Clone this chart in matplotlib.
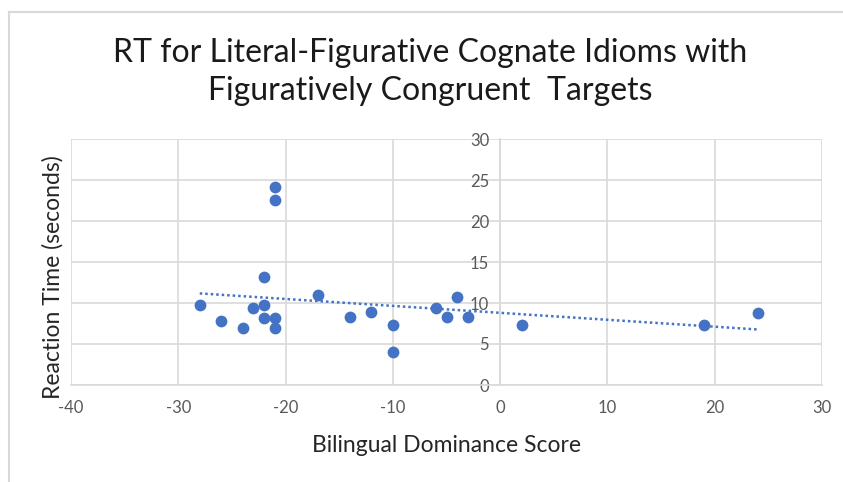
import matplotlib.pyplot as plt
import numpy as np

# данные (оценка по картинке)
dominance = [-28, -26, -24, -23, -22, -22, -22, -21, -21, -21, -21,
             -17, -14, -12, -10, -10, -6, -5, -4, -3, 2, 19, 24]
rt = [9.8, 7.8, 7.0, 9.4, 9.8, 8.2, 13.2, 24.1, 22.6, 8.2, 7.0,
      11.0, 8.3, 8.9, 7.3, 4.0, 9.4, 8.3, 10.7, 8.3, 7.3, 7.3, 8.8]
x_ticks = [-40, -30, -20, -10, 0, 10, 20, 30]
y_ticks = [0, 5, 10, 15, 20, 25, 30]

plt.rcParams['font.family'] = ['Lato', 'DejaVu Sans']
plt.rcParams['axes.unicode_minus'] = False
blue = '#4472C4'
grey = '#D9D9D9'

fig = plt.figure(figsize=(8.43, 4.82), dpi=100)
ax = fig.add_axes([71 / 843, 1 - 385 / 482, 751 / 843, 246 / 482])

ax.scatter(dominance, rt, s=72, color=blue, zorder=3, linewidths=0)

# линейный тренд
k, b = np.polyfit(dominance, rt, 1)
tx = np.array([min(dominance), max(dominance)])
ax.plot(tx, k * tx + b, color=blue, lw=1.8, linestyle=(0, (1, 1.2)), zorder=2)

ax.set_xlim(-40, 30)
ax.set_ylim(0, 30)
ax.set_xticks(x_ticks)
ax.set_yticks(y_ticks)
ax.grid(True, color=grey, lw=1.2)
ax.set_axisbelow(True)

for s in ['top', 'right']:
    ax.spines[s].set_visible(False)
ax.spines['left'].set_position(('data', 0))
ax.spines['left'].set_color(grey)
ax.spines['left'].set_linewidth(1.2)
ax.spines['bottom'].set_color(grey)
ax.spines['bottom'].set_linewidth(1.2)
ax.tick_params(length=0, labelsize=12, colors='#595959')
ax.tick_params(axis='x', pad=11)
ax.tick_params(axis='y', pad=8)

fig.text(0.51, 1 - 72 / 482, "RT for Literal-Figurative Cognate Idioms with\nFiguratively Congruent  Targets",
         ha='center', va='center', fontsize=23, color='#1a1a1a', linespacing=1.35)
fig.text(447 / 843, 1 - 445 / 482, "Bilingual Dominance Score", ha='center', va='center',
         fontsize=16.5, color='#262626')
fig.text(53 / 843, 1 - 277 / 482, "Reaction Time (seconds)", ha='center', va='center',
         rotation=90, fontsize=16.5, color='#262626')

# рамка
fig.add_artist(plt.Line2D([8.5 / 843, 1], [1 - 12 / 482, 1 - 12 / 482], color=grey, lw=1.5))
fig.add_artist(plt.Line2D([8.5 / 843, 8.5 / 843], [0, 1 - 12 / 482], color=grey, lw=1.5))

fig.savefig('out.png', dpi=100)
